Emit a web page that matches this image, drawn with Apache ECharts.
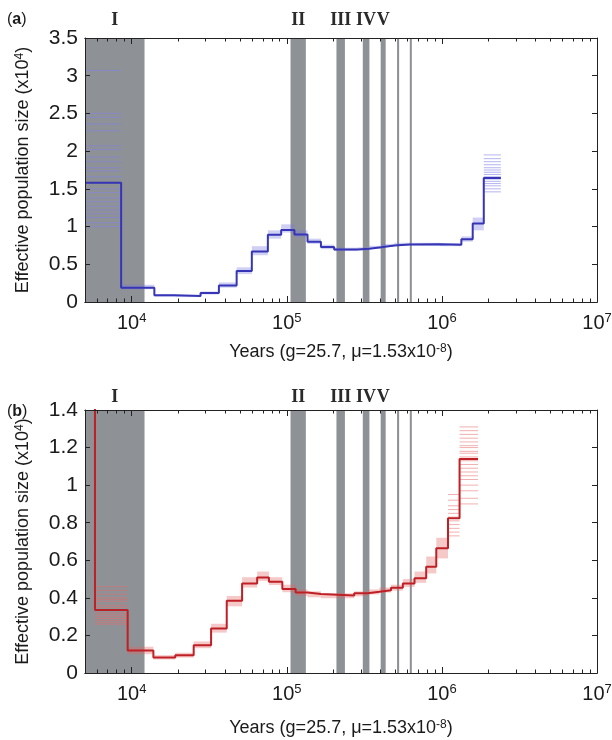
<!DOCTYPE html>
<html><head><meta charset="utf-8">
<script src="https://cdn.jsdelivr.net/npm/echarts@6/dist/echarts.min.js"></script>
<style>html,body{margin:0;padding:0;background:#fff}#c{width:612px;height:740px}</style>
</head><body><div id="c"></div>
<script>
// ---------- Panel (a): step start times (years) and Ne (x10^4) ----------
const aTimes  = [5000, 8550, 14000, 19100, 27800, 36500, 47500, 59500, 75500, 92000, 112000, 136000, 166000, 202000, 286000, 340000, 406000, 494000, 618000, 966000, 1335000, 1580000, 1862000, 2400000];
const aValues = [1.58, 0.19, 0.088, 0.08, 0.12, 0.22, 0.41, 0.67, 0.89, 0.955, 0.895, 0.80, 0.73, 0.695, 0.705, 0.725, 0.748, 0.762, 0.767, 0.758, 0.832, 1.04, 1.645];
const aBootLo = [null, 0.17, 0.07, 0.065, 0.10, 0.19, 0.37, 0.62, 0.84, 0.92, 0.86, 0.77, 0.70, 0.675, 0.685, 0.705, 0.73, 0.745, 0.75, 0.74, 0.80, 0.95, null];
const aBootHi = [null, 0.23, 0.10, 0.095, 0.14, 0.26, 0.46, 0.74, 0.95, 1.03, 0.95, 0.84, 0.76, 0.72, 0.725, 0.745, 0.77, 0.785, 0.785, 0.78, 0.87, 1.12, null];
// individual bootstrap levels where the spread is wide
const aFirstBoot = [3.07, 2.5, 2.45, 2.36, 2.27, 2.07, 2.02, 1.92, 1.86, 1.78, 1.74, 1.66, 1.5, 1.45, 1.38, 1.33, 1.27, 1.22, 1.17, 1.12, 1.05, 1.0];
const aLastBoot  = [1.95, 1.9, 1.86, 1.82, 1.78, 1.75, 1.72, 1.69, 1.66, 1.63, 1.6, 1.57, 1.54, 1.5, 1.46];

// ---------- Panel (b) ----------
const bTimes  = [5000, 5800, 9420, 13800, 19100, 25100, 32500, 41000, 51500, 64400, 76700, 93600, 114000, 136000, 166000, 272000, 332000, 395000, 470000, 560000, 666000, 792000, 920000, 1095000, 1300000, 1710000];
const bValues = [1.6, 0.335, 0.12, 0.082, 0.094, 0.148, 0.237, 0.385, 0.477, 0.509, 0.486, 0.447, 0.429, 0.42, 0.413, 0.424, 0.432, 0.441, 0.454, 0.477, 0.504, 0.566, 0.664, 0.824, 1.139];
const bBootLo = [null, null, 0.10, 0.072, 0.082, 0.132, 0.215, 0.355, 0.455, 0.49, 0.468, 0.43, 0.41, 0.403, 0.398, 0.408, 0.418, 0.428, 0.438, 0.458, 0.48, 0.53, 0.61, null, null];
const bBootHi = [null, null, 0.14, 0.095, 0.108, 0.168, 0.262, 0.41, 0.51, 0.54, 0.51, 0.47, 0.445, 0.435, 0.425, 0.435, 0.445, 0.455, 0.47, 0.50, 0.54, 0.62, 0.72, null, null];
const bSecondBoot = [0.46, 0.44, 0.42, 0.40, 0.39, 0.38, 0.36, 0.35, 0.32, 0.31, 0.30, 0.29, 0.28, 0.27, 0.26];
const bPenultBoot = [0.95, 0.92, 0.89, 0.87, 0.85, 0.83, 0.81, 0.79, 0.77, 0.75, 0.73];
const bLastBoot   = [1.31, 1.29, 1.27, 1.25, 1.23, 1.21, 1.2, 1.18, 1.17, 1.15, 1.13, 1.11, 1.09, 1.07, 1.05, 1.03, 1.0, 0.97, 0.93, 0.9];

// ---------- Shaded periods (years) ----------
const bandLo = [5000, 105700, 209000, 309000, 403000, 514000, 621000];
const bandHi = [12100, 132700, 237000, 341000, 434000, 530000, 640000];
const bandLabels = ['I', 'II', 'III', 'IV', 'V', '', ''];

// ---------- Axes ----------
const xMin = 5000, xMax = 10000000;
const xMajorTicks = [10000, 100000, 1000000, 10000000];
const xMinorTicks = [6000, 7000, 8000, 9000, 20000, 30000, 40000, 50000, 60000, 70000, 80000, 90000,
  200000, 300000, 400000, 500000, 600000, 700000, 800000, 900000,
  2000000, 3000000, 4000000, 5000000, 6000000, 7000000, 8000000, 9000000];
const aYMax = 3.5, aYInterval = 0.5;
const bYMax = 1.4, bYInterval = 0.2;

const SANS = "'Liberation Sans', Arial, Helvetica, sans-serif";
const SERIF = "'Liberation Serif', 'Times New Roman', serif";
const TXT = '#1a1a1a';
const AX = '#222222';

function stepData(times, vals) {
  const d = vals.map((v, i) => [times[i], v]);
  d.push([times[times.length - 1], vals[vals.length - 1]]);
  return d;
}
function envData(times, lo, hi) {
  const d = [];
  for (let i = 0; i < lo.length; i++) {
    if (lo[i] == null) continue;
    d.push([times[i], times[i + 1], lo[i], hi[i]]);
  }
  return d;
}
function levelData(times, seg, levels) {
  return levels.map(v => [times[seg], times[seg + 1], v]);
}
function renderEnv(params, api) {
  const p0 = api.coord([api.value(0), api.value(3)]);
  const p1 = api.coord([api.value(1), api.value(2)]);
  const cs = params.coordSys;
  const r = echarts.graphic.clipRectByRect(
    { x: p0[0], y: p0[1], width: p1[0] - p0[0], height: p1[1] - p0[1] },
    { x: cs.x, y: cs.y, width: cs.width, height: cs.height });
  return r && { type: 'rect', shape: r, style: { fill: api.visual('color') } };
}
function renderHLine(params, api) {
  const p0 = api.coord([api.value(0), api.value(2)]);
  const p1 = api.coord([api.value(1), api.value(2)]);
  const cs = params.coordSys;
  const x0 = Math.max(p0[0], cs.x), x1 = Math.min(p1[0], cs.x + cs.width);
  if (p0[1] < cs.y) return null;
  return { type: 'line', shape: { x1: x0, y1: p0[1], x2: x1, y2: p0[1] },
    style: { stroke: api.visual('color'), lineWidth: 1 } };
}

const xName = 'Years (g=25.7, \u03bc=1.53x10{s|-8})';
const supStyle = { fontSize: 12, verticalAlign: 'top', lineHeight: 10, fontFamily: SANS, color: TXT };

function xAxes(g, nameGap) {
  const base = { gridIndex: g, type: 'log', logBase: 10, min: xMin, max: xMax, zlevel: 1,
    splitLine: { show: false }, axisLine: { show: true, lineStyle: { color: AX, width: 1 } } };
  const tickStyle = { color: AX, width: 1 };
  return [
    Object.assign({}, base, { position: 'bottom',
      axisTick: { show: true, inside: true, length: 6, customValues: xMajorTicks, lineStyle: tickStyle },
      axisLabel: { show: true, customValues: xMajorTicks, margin: 10,
        formatter: v => '{b|10}{s|' + Math.round(Math.log10(v)) + '}',
        rich: { b: { fontSize: 20, fontFamily: SANS, color: TXT, lineHeight: 22 },
                s: { fontSize: 13, fontFamily: SANS, color: TXT, verticalAlign: 'top', lineHeight: 12 } } },
      name: xName, nameLocation: 'middle', nameGap: nameGap,
      nameTextStyle: { fontSize: 18, fontFamily: SANS, color: TXT, rich: { s: supStyle } } }),
    Object.assign({}, base, { position: 'bottom',
      axisTick: { show: true, inside: true, length: 3.5, customValues: xMinorTicks, lineStyle: tickStyle },
      axisLabel: { show: false } }),
    Object.assign({}, base, { position: 'top',
      axisTick: { show: true, inside: true, length: 6, customValues: xMajorTicks, lineStyle: tickStyle },
      axisLabel: { show: false } }),
    Object.assign({}, base, { position: 'top',
      axisTick: { show: true, inside: true, length: 3.5, customValues: xMinorTicks, lineStyle: tickStyle },
      axisLabel: { show: false } })
  ];
}
function yAxes(g, yMax, yInt) {
  const tickStyle = { color: AX, width: 1 };
  return [
    { gridIndex: g, type: 'value', min: 0, max: yMax, interval: yInt, position: 'left', zlevel: 1,
      axisLine: { show: true, lineStyle: { color: AX, width: 1 } }, splitLine: { show: false },
      axisTick: { show: true, inside: true, length: 5, lineStyle: tickStyle },
      axisLabel: { fontSize: 21, fontFamily: SANS, color: TXT, margin: 7 },
      name: 'Effective population size (x10{s|4})', nameLocation: 'middle', nameGap: 53, nameRotate: 90,
      nameTextStyle: { fontSize: 18, fontFamily: SANS, color: TXT, rich: { s: supStyle } } },
    { gridIndex: g, type: 'value', min: 0, max: yMax, interval: yInt, position: 'right', zlevel: 1,
      axisLine: { show: true, lineStyle: { color: AX, width: 1 } }, splitLine: { show: false },
      axisTick: { show: true, inside: true, length: 5, lineStyle: tickStyle },
      axisLabel: { show: false } }
  ];
}
function bandSeries(xi, yi, dist) {
  return {
    type: 'line', xAxisIndex: xi, yAxisIndex: yi, data: [[xMax, 0]], symbol: 'none', silent: true, z: 1,
    lineStyle: { opacity: 0 },
    markArea: {
      silent: true,
      itemStyle: { color: '#8e9196', opacity: 1 },
      label: { show: true, position: 'top', distance: dist, color: '#2a2a2a', fontFamily: SERIF, fontWeight: 'bold', fontSize: 18 },
      data: bandLo.map((lo, i) => [{ xAxis: lo, name: bandLabels[i] }, { xAxis: bandHi[i] }])
    }
  };
}
function levelSeries(xi, yi, data, color) {
  return { type: 'custom', xAxisIndex: xi, yAxisIndex: yi, z: 2, silent: true, renderItem: renderHLine,
    itemStyle: { color: color }, encode: { x: [0, 1], y: 2 }, data: data };
}

const blueBoot = 'rgba(130,130,230,0.6)';
const redBoot = 'rgba(232,110,110,0.55)';

const chart = echarts.init(document.getElementById('c'), null, { renderer: 'canvas' });
chart.setOption({
  animation: false,
  backgroundColor: '#fff',
  grid: [
    { left: 85, top: 38, width: 512, height: 264, show: false, outerBoundsMode: 'none' },
    { left: 85, top: 410, width: 512, height: 263, show: false, outerBoundsMode: 'none' }
  ],
  xAxis: xAxes(0, 41).concat(xAxes(1, 46)),
  yAxis: yAxes(0, aYMax, aYInterval).concat(yAxes(1, bYMax, bYInterval)),
  graphic: [
    { type: 'text', left: 7, top: 12, style: { text: '({b|a})', font: '16px ' + SANS, fill: TXT,
      rich: { b: { fontWeight: 'bold', fontSize: 16, fontFamily: SANS, fill: TXT } } } },
    { type: 'text', left: 7, top: 404, style: { text: '({b|b})', font: '16px ' + SANS, fill: TXT,
      rich: { b: { fontWeight: 'bold', fontSize: 16, fontFamily: SANS, fill: TXT } } } }
  ],
  series: [
    bandSeries(0, 0, 9),
    { type: 'custom', xAxisIndex: 0, yAxisIndex: 0, z: 2, silent: true, renderItem: renderEnv,
      itemStyle: { color: 'rgba(120,120,225,0.35)' }, encode: { x: [0, 1], y: [2, 3] },
      data: envData(aTimes, aBootLo, aBootHi) },
    levelSeries(0, 0, levelData(aTimes, 0, aFirstBoot), blueBoot),
    levelSeries(0, 0, levelData(aTimes, aValues.length - 1, aLastBoot), blueBoot),
    { type: 'line', xAxisIndex: 0, yAxisIndex: 0, z: 3, step: 'end', symbol: 'none', silent: true,
      lineStyle: { color: '#3535b5', width: 2 }, data: stepData(aTimes, aValues) },

    bandSeries(4, 2, 4),
    { type: 'custom', xAxisIndex: 4, yAxisIndex: 2, z: 2, silent: true, renderItem: renderEnv,
      itemStyle: { color: 'rgba(228,100,100,0.35)' }, encode: { x: [0, 1], y: [2, 3] },
      data: envData(bTimes, bBootLo, bBootHi) },
    levelSeries(4, 2, levelData(bTimes, 1, bSecondBoot), redBoot),
    levelSeries(4, 2, levelData(bTimes, bValues.length - 2, bPenultBoot), redBoot),
    levelSeries(4, 2, levelData(bTimes, bValues.length - 1, bLastBoot), redBoot),
    { type: 'line', xAxisIndex: 4, yAxisIndex: 2, z: 3, step: 'end', symbol: 'none', silent: true,
      lineStyle: { color: '#bf2026', width: 2 }, data: stepData(bTimes, bValues) }
  ]
});
</script>
</body></html>
